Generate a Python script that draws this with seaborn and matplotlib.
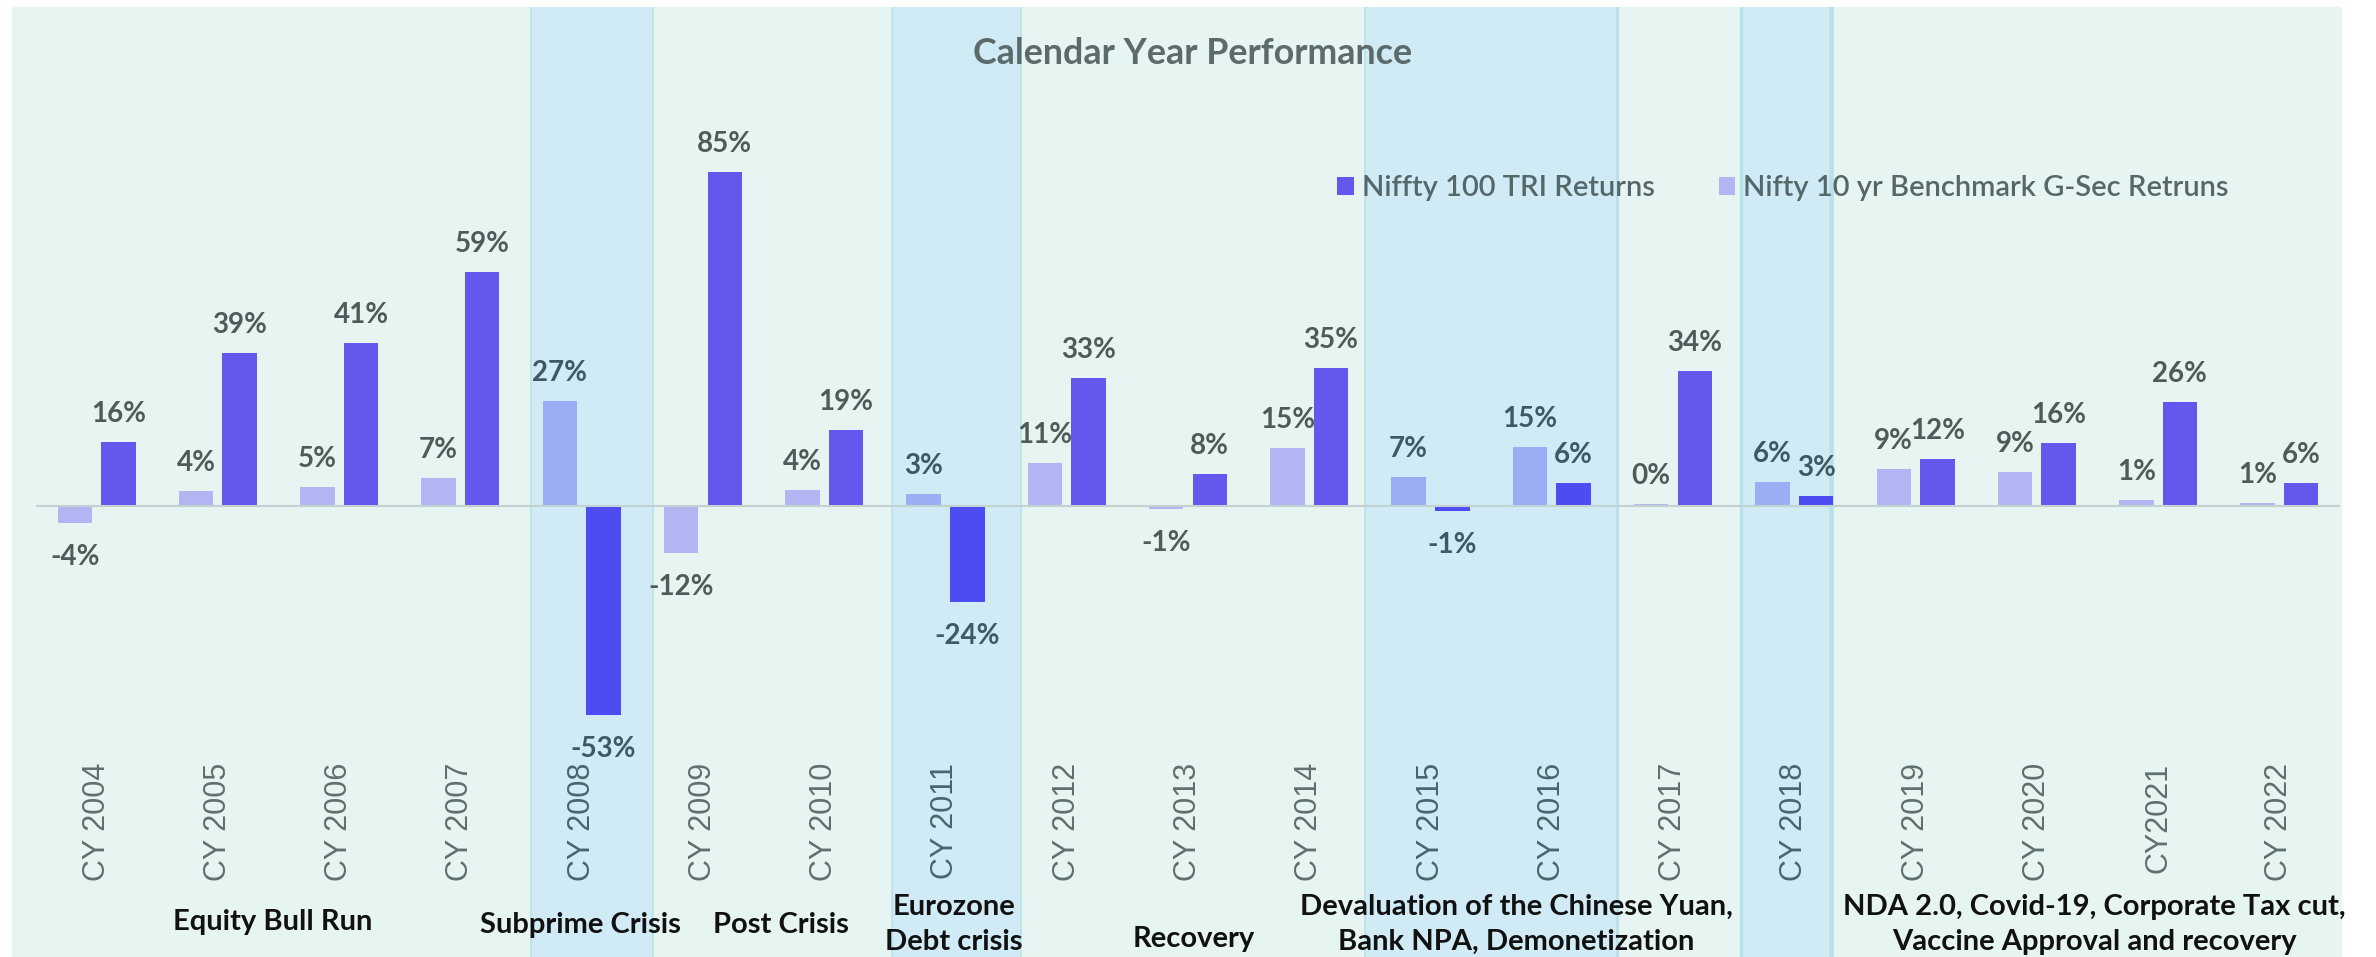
import matplotlib
matplotlib.use("Agg")
import matplotlib.pyplot as plt
import matplotlib.transforms as mtransforms
from matplotlib.patches import Rectangle, Patch
import seaborn as sns
import pandas as pd

# ---------------- data ----------------
years = ["CY 2004", "CY 2005", "CY 2006", "CY 2007", "CY 2008", "CY 2009", "CY 2010",
         "CY 2011", "CY 2012", "CY 2013", "CY 2014", "CY 2015", "CY 2016", "CY 2017",
         "CY 2018", "CY 2019", "CY 2020", "CY2021", "CY 2022"]
nifty_tri = [16.3, 38.8, 41.3, 59.4, -53.3, 85.0, 19.3, -24.4, 32.6, 8.0, 35.0, -1.35,
             5.7, 34.3, 2.6, 11.8, 16.0, 26.4, 5.9]
gsec = [-4.3, 3.7, 4.8, 7.0, 26.6, -12.1, 4.0, 2.9, 10.8, -0.85, 14.6, 7.2, 14.9, 0.4,
        6.1, 9.3, 8.7, 1.4, 0.6]
series_names = ["Niffty 100 TRI Returns", "Nifty 10 yr Benchmark G-Sec Retruns"]
title = "Calendar Year Performance"
eras = [["Equity Bull Run"], ["Subprime Crisis"], ["Post Crisis"],
        ["Eurozone", "Debt crisis"], ["Recovery"],
        ["Devaluation of the Chinese Yuan,", "Bank NPA, Demonetization"],
        ["NDA 2.0, Covid-19, Corporate Tax cut,", "Vaccine Approval and recovery"]]
shaded_years = ["CY 2008", "CY 2011", "CY 2015", "CY 2016", "CY 2018"]

# ---------------- styling ----------------
W, H = 2376, 957
sns.set_theme(style="white")
plt.rcParams["font.family"] = ["Lato", "DejaVu Sans"]

C_NIFTY, C_NIFTY_D = "#6457EE", "#4E4BF2"
C_GSEC, C_GSEC_D = "#B1B6F3", "#9BAEF5"
C_MINT = "#E6F5F2"
C_BAND = "#D0EBF6"
C_BAND_EDGE = "#BBE1EB"
C_LABEL, C_LABEL_D = "#4E5B5B", "#3E5963"
C_TICK, C_TICK_D = "#5F6F6F", "#4B636D"


def fx(px):
    return px / W


def fy(py):
    return 1 - py / H


fig = plt.figure(figsize=(W / 100, H / 100), dpi=100)
fig.patch.set_facecolor("white")
fig.patches.append(Rectangle((fx(12), 0), fx(2342) - fx(12), fy(7), transform=fig.transFigure,
                             facecolor=C_MINT, edgecolor="none", zorder=-1))

ax = fig.add_axes([fx(36), 0, fx(2340) - fx(36), fy(7)])
ax.patch.set_visible(False)

df = pd.DataFrame({
    "year": years * 2,
    "value": gsec + nifty_tri,
    "series": [series_names[1]] * len(years) + [series_names[0]] * len(years),
})

sns.barplot(data=df, x="year", y="value", hue="series", order=years,
            hue_order=[series_names[1], series_names[0]],
            palette={series_names[0]: C_NIFTY, series_names[1]: C_GSEC},
            width=0.72, gap=0.21, errorbar=None, legend=False, saturation=1,
            linewidth=0, ax=ax, zorder=2)

ax.set_xlim(-0.5, 18.5)
ax.set_ylim(-114.8, 126.9)
ax.set_axis_off()

# shaded bands
bands = [(3.579, 4.588, 1.2, 1.2), (6.557, 7.626, 1.2, 1.2),
         (10.463, 12.54, 1.2, 2.2), (13.56, 14.30, 2.5, 3.6)]
for x0, x1, lw0, lw1 in bands:
    ax.axvspan(x0, x1, color=C_BAND, lw=0, zorder=0.5)
    ax.axvline(x0, color=C_BAND_EDGE, lw=lw0, zorder=0.6)
    ax.axvline(x1, color=C_BAND_EDGE, lw=lw1, zorder=0.6)

ax.axhline(0, color="#C2D2D2", lw=1.5, zorder=3)

LBL_WEIGHT = "bold"

# recolor bars & add value labels
gsec_cont, nifty_cont = ax.containers[0], ax.containers[1]
for cont, base, dark in [(gsec_cont, C_GSEC, C_GSEC_D), (nifty_cont, C_NIFTY, C_NIFTY_D)]:
    for i, bar in enumerate(cont):
        shaded = years[i] in shaded_years
        bar.set_facecolor(dark if shaded else base)
        h = bar.get_height()
        val = h if bar.get_y() >= 0 else bar.get_y()
        xc = bar.get_x() + bar.get_width() / 2
        off = 14.4 if val >= 0 else -30.2
        ax.annotate(f"{val:.0f}%", xy=(xc, val), xytext=(0, off), textcoords="offset points",
                    ha="center", va="baseline", fontsize=20, weight=LBL_WEIGHT,
                    color=C_LABEL_D if shaded else C_LABEL, zorder=4)

# category labels (rotated)
blend = mtransforms.blended_transform_factory(ax.transData, fig.transFigure)
for i, lab in enumerate(years):
    shaded = lab in shaded_years
    ax.text(i, fy(763), lab, transform=blend, rotation=90, ha="center", va="top",
            fontsize=22, family=["Liberation Sans", "DejaVu Sans"],
            color=C_TICK_D if shaded else C_TICK)

# title
fig.text(fx(1193), fy(63.5), title, ha="center", va="baseline", fontsize=25.8,
         color="#5B6A6B", weight=LBL_WEIGHT)

# legend
handles = [Patch(facecolor=C_NIFTY, edgecolor="none"), Patch(facecolor=C_GSEC, edgecolor="none")]
fig.legend(handles, series_names, loc="center left", bbox_to_anchor=(fx(1337), fy(188)),
           ncol=2, frameon=False, labelcolor="#56676A", borderpad=0,
           prop={"size": 21, "weight": "semibold"},
           borderaxespad=0, handlelength=0.58, handleheight=0.58, handletextpad=0.26,
           columnspacing=2.2)

# era annotations
era_pos = [(273, [930]), (580.6, [933]), (781, [933]), (954, [915, 950]),
           (1194, [947]), (1516, [915, 950]), (2094, [915, 950])]
for lines, (xp, ys) in zip(eras, era_pos):
    for line, yp in zip(lines, ys):
        fig.text(fx(xp), fy(yp), line, ha="center", va="baseline", fontsize=21,
                 color="#111111", weight=LBL_WEIGHT)

fig.savefig("out.png", dpi=100)
